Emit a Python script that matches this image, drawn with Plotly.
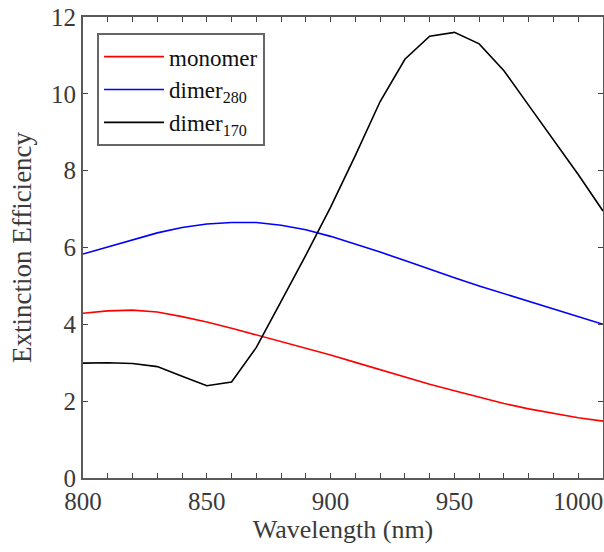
import plotly.graph_objects as go

wavelength = [800, 810, 820, 830, 840, 850, 860, 870, 880, 890, 900,
              910, 920, 930, 940, 950, 960, 970, 980, 990, 1000, 1010]
monomer = [4.29, 4.35, 4.37, 4.32, 4.20, 4.06, 3.90, 3.73, 3.55, 3.38, 3.20,
           3.01, 2.82, 2.63, 2.44, 2.27, 2.10, 1.94, 1.80, 1.68, 1.57, 1.48]
dimer280 = [5.83, 6.02, 6.21, 6.38, 6.52, 6.61, 6.65, 6.65, 6.58, 6.46, 6.29,
            6.09, 5.88, 5.66, 5.43, 5.21, 5.00, 4.80, 4.60, 4.40, 4.20, 4.00]
dimer170 = [2.99, 3.00, 2.98, 2.90, 2.65, 2.40, 2.50, 3.40, 4.60, 5.80, 7.05,
            8.40, 9.80, 10.90, 11.50, 11.60, 11.30, 10.60, 9.70, 8.80, 7.90, 6.95]

names = ["monomer", "dimer<sub>280</sub>", "dimer<sub>170</sub>"]
colors = ["#ff0000", "#0000ff", "#000000"]
x_ticks = [800, 850, 900, 950, 1000]
y_ticks = [0, 2, 4, 6, 8, 10, 12]

fig = go.Figure()
for ys, nm, c in zip([monomer, dimer280, dimer170], names, colors):
    fig.add_trace(go.Scatter(x=wavelength, y=ys, mode="lines", name=nm,
                             line=dict(color=c, width=1.6)))

font = "Liberation Serif, Times New Roman, serif"
axis_common = dict(showline=True, linecolor="#5a5a5a", linewidth=2, mirror="ticks",
                   ticks="inside", ticklen=5, tickcolor="#444444", showgrid=False,
                   zeroline=False, automargin=False, ticklabeloverflow="allow",
                   tickfont=dict(family=font, size=25, color="#3a3a3a"))

fig.update_xaxes(range=[800, 1010], tickvals=x_ticks,
                 minor=dict(dtick=10, tick0=800, ticks="inside", ticklen=5, tickcolor="#444444"),
                 title=dict(text="Wavelength (nm)", font=dict(family=font, size=26, color="#3a3a3a"),
                            standoff=3),
                 **axis_common)
fig.update_yaxes(range=[0, 12], tickvals=y_ticks,
                 title=dict(text="Extinction Efficiency", font=dict(family=font, size=27, color="#3a3a3a"),
                            standoff=12),
                 **axis_common)

fig.update_layout(
    width=604, height=552,
    margin=dict(l=83, r=1, t=17, b=74),
    plot_bgcolor="white", paper_bgcolor="white",
    showlegend=True,
    legend=dict(x=0.027, y=0.965, xanchor="left", yanchor="top",
                bgcolor="white", bordercolor="#666666", borderwidth=2,
                font=dict(family=font, size=23, color="#111111"),
                itemwidth=60, tracegroupgap=0),
)

fig.write_html("out.html",
               config={"displayModeBar": False},
               post_script="document.body.style.margin='0px';document.body.style.overflow='hidden';")
